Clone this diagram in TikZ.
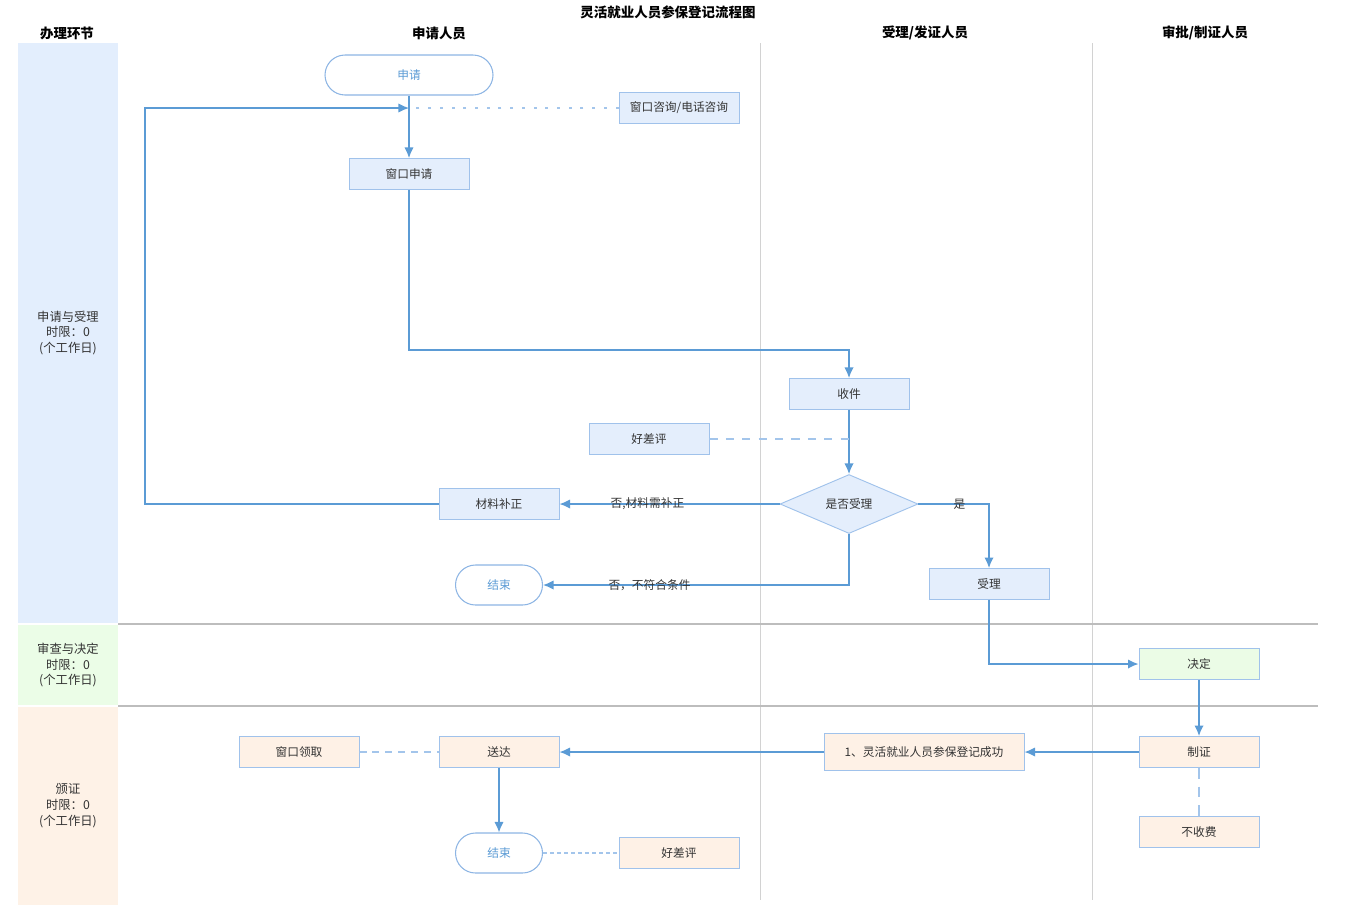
\documentclass[tikz,border=0pt]{standalone}
\usepackage{fontspec}
\setmainfont{Noto Sans CJK SC}
\usepackage{xcolor}
\usetikzlibrary{shapes.geometric,arrows.meta}
\definecolor{lineblue}{HTML}{5B9BD5}
\definecolor{edgeblue}{HTML}{A0C2EB}
\definecolor{capblue}{HTML}{8DB5E4}
\definecolor{dashblue}{HTML}{A3C5EB}
\definecolor{fillblue}{HTML}{E4EEFC}
\definecolor{fillgreen}{HTML}{EBFCE6}
\definecolor{fillpeach}{HTML}{FEF1E6}
\definecolor{laneblue}{HTML}{E3EEFD}
\definecolor{lanegreen}{HTML}{EBFDE7}
\definecolor{lanepeach}{HTML}{FEF2E7}
\definecolor{textgray}{HTML}{333333}
\definecolor{sepgray}{HTML}{D2D2D2}
\tikzstyle{terminal} = [rectangle, rounded corners=0.6cm, minimum height=1.2cm, text centered, draw=capblue, line width=0.9pt, fill=white, text=lineblue]
\tikzstyle{process} = [rectangle, minimum width=3.6cm, minimum height=0.93cm, text centered, draw=edgeblue, line width=0.8pt, fill=fillblue, text=textgray]
\tikzstyle{decision} = [diamond, aspect=2.3, minimum width=4.14cm, minimum height=1.77cm, inner sep=0pt, text centered, draw=edgeblue, line width=0.8pt, fill=fillblue, text=textgray]
\tikzstyle{header} = [font=\bfseries\fontsize{11.5}{13}\selectfont, text=black]
\tikzstyle{lanelabel} = [align=center, font=\fontsize{10.5}{13.6}\selectfont, text=textgray]
\tikzstyle{arrow} = [line width=1.2pt, ->, >={Latex[length=9pt,width=8pt]}, draw=lineblue]
\tikzstyle{dashline} = [line width=1.2pt, draw=dashblue, dash pattern=on 7pt off 7pt]

\begin{document}
\begin{tikzpicture}[every node/.style={font=\fontsize{10}{12}\selectfont}]
    \useasboundingbox (0,0) rectangle (40.5,-27.18);

    % lanes
    \fill [laneblue] (0.54,-1.29) rectangle (3.54,-18.69);
    \fill [lanegreen] (0.54,-18.75) rectangle (3.54,-21.15);
    \fill [lanepeach] (0.54,-21.21) rectangle (3.54,-27.15);
    \draw [sepgray, line width=0.8pt] (22.8,-1.29) -- (22.8,-27.0);
    \draw [sepgray, line width=0.8pt] (32.76,-1.29) -- (32.76,-27.0);
    \draw [sepgray!90!black, line width=1.5pt] (3.54,-18.72) -- (39.54,-18.72);
    \draw [sepgray!90!black, line width=1.5pt] (3.54,-21.18) -- (39.54,-21.18);

    \node (title) [header] at (20.04,-0.36) {灵活就业人员参保登记流程图};
    \node (hstep) [header] at (2.01,-0.99) {办理环节};
    \node (happly) [header] at (13.17,-0.99) {申请人员};
    \node (haccept) [header] at (27.75,-0.99) {受理/发证人员};
    \node (happrove) [header] at (36.15,-0.99) {审批/制证人员};

    \node (lane1) [lanelabel] at (2.04,-9.99) {申请与受理\\时限：0\\(个工作日)};
    \node (lane2) [lanelabel] at (2.04,-19.95) {审查与决定\\时限：0\\(个工作日)};
    \node (lane3) [lanelabel] at (2.04,-24.18) {颁证\\时限：0\\(个工作日)};

    \node (shenqing) [terminal, minimum width=5.04cm] at (12.27,-2.25) {申请};
    \node (zixun) [process] at (20.37,-3.24) {窗口咨询/电话咨询};
    \node (chuangkou) [process, below of=shenqing, node distance=2.97cm] {窗口申请};
    \node (shoujian) [process] at (25.47,-11.82) {收件};
    \node (haocha) [process] at (19.47,-13.17) {好差评};
    \node (shifou) [decision, below of=shoujian, node distance=3.3cm] {是否受理};
    \node (buzheng) [process, left of=shifou, node distance=10.5cm] {材料补正};
    \node (jieshu) [terminal, minimum width=2.61cm, below of=buzheng, node distance=2.43cm] {结束};
    \node (shouli) [process] at (29.67,-17.52) {受理};

    \node (jueding) [process, fill=fillgreen] at (35.97,-19.92) {决定};
    \node (zhizheng) [process, fill=fillpeach, below of=jueding, node distance=2.64cm] {制证};
    \node (bushoufei) [process, fill=fillpeach, below of=zhizheng, node distance=2.4cm] {不收费};
    \node (chenggong) [process, fill=fillpeach, minimum width=6cm, minimum height=1.11cm, left of=zhizheng, node distance=8.25cm] {1、灵活就业人员参保登记成功};
    \node (songda) [process, fill=fillpeach, left of=chenggong, node distance=12.75cm] {送达};
    \node (lingqu) [process, fill=fillpeach, left of=songda, node distance=6cm] {窗口领取};
    \node (jieshu2) [terminal, minimum width=2.61cm, below of=songda, node distance=3.03cm] {结束};
    \node (haocha2) [process, fill=fillpeach, right of=jieshu2, node distance=5.4cm] {好差评};

    \coordinate (merge) at (shenqing |- zixun);
    \coordinate (1) at (4.35,-3.24);
    \coordinate (2) at (25.47,-10.5);

    \draw [arrow] (shenqing) -- (chuangkou);
    \draw [dashline, dash pattern=on 2.5pt off 7.5pt] (zixun) -- (merge);
    \draw [arrow] (chuangkou) |- (2) -- (shoujian);
    \draw [arrow] (shoujian) -- (shifou);
    \draw [dashline] (haocha) -- (haocha -| shoujian);
    \draw [arrow] (shifou) -- node [pos=0.6, text=textgray] {否,材料需补正} (buzheng);
    \draw [arrow] (buzheng) -| (1) -- (merge);
    \draw [arrow] (shifou) |- node [pos=0.826, text=textgray] {否，不符合条件} (jieshu);
    \draw [arrow] (shifou) -| node [pos=0.29, text=textgray] {是} (shouli);
    \draw [arrow] (shouli) |- (jueding);

    \draw [arrow] (jueding) -- (zhizheng);
    \draw [dashline, dash pattern=on 9pt off 7pt] (zhizheng) -- (bushoufei);
    \draw [arrow] (zhizheng) -- (chenggong);
    \draw [arrow] (chenggong) -- (songda);
    \draw [dashline, dash pattern=on 6pt off 5pt] (lingqu) -- (songda);
    \draw [arrow] (songda) -- (jieshu2);
    \draw [dashline, dash pattern=on 3pt off 3pt] (jieshu2) -- (haocha2);
  \end{tikzpicture}
\end{document}
